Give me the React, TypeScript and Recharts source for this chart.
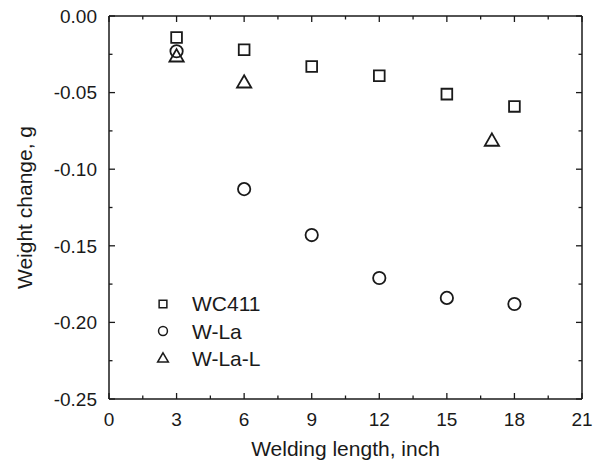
import React from 'react'
import {
  ScatterChart,
  Scatter,
  XAxis,
  YAxis,
  Legend,
  Symbols,
} from 'recharts'

// Weight change vs welding length, three electrode types
const lengthWC411 = [3, 6, 9, 12, 15, 18]
const weightWC411 = [-0.014, -0.022, -0.033, -0.039, -0.051, -0.059]
const lengthWLa = [3, 6, 9, 12, 15, 18]
const weightWLa = [-0.023, -0.113, -0.143, -0.171, -0.184, -0.188]
const lengthWLaL = [3, 6, 17]
const weightWLaL = [-0.027, -0.044, -0.082]

const xMajorTicks = [0, 3, 6, 9, 12, 15, 18, 21]
const xMinorTicks = [1.5, 4.5, 7.5, 10.5, 13.5, 16.5, 19.5]
const yMajorTicks = [0, -0.05, -0.1, -0.15, -0.2, -0.25]
const yMinorTicks = [-0.025, -0.075, -0.125, -0.175, -0.225]

const toPoints = (xs: number[], ys: number[]) => xs.map((x, i) => ({ x, y: ys[i] }))

const series = [
  { name: 'WC411', shape: 'square', data: toPoints(lengthWC411, weightWC411), size: 115, legendSize: 60 },
  { name: 'W-La', shape: 'circle', data: toPoints(lengthWLa, weightWLa), size: 120, legendSize: 62 },
  { name: 'W-La-L', shape: 'triangle', data: toPoints(lengthWLaL, weightWLaL), size: 88, legendSize: 50 },
]

const INK = '#1a1a1a'
const FONT = '"Liberation Sans", Arial, sans-serif'

const XTick = (props: any) => {
  const { x, y, payload, side } = props
  const major = xMajorTicks.includes(payload.value)
  const len = major ? 6 : 3.5
  const dir = side === 'bottom' ? -1 : 1
  return (
    <g>
      <line x1={x} y1={y} x2={x} y2={y + dir * len} stroke={INK} strokeWidth={1.3} />
      {side === 'bottom' && major && (
        <text x={x} y={y + 20} dy="0.36em" textAnchor="middle" fontSize={19} fill={INK} fontFamily={FONT}>
          {payload.value}
        </text>
      )}
    </g>
  )
}

const YTick = (props: any) => {
  const { x, y, payload, side } = props
  const major = yMajorTicks.includes(payload.value)
  const len = major ? 6 : 3.5
  const dir = side === 'left' ? 1 : -1
  return (
    <g>
      <line x1={x} y1={y} x2={x + dir * len} y2={y} stroke={INK} strokeWidth={1.3} />
      {side === 'left' && major && (
        <text x={x - 12} y={y} dy="0.36em" textAnchor="end" fontSize={19} fill={INK} fontFamily={FONT}>
          {payload.value.toFixed(2)}
        </text>
      )}
    </g>
  )
}

const LegendBox = () => (
  <div style={{ fontFamily: FONT, fontSize: 21, color: INK }}>
    {series.map(s => (
      <div key={s.name} style={{ display: 'flex', alignItems: 'center', height: 27.5 }}>
        <svg width={26} height={26}>
          <Symbols cx={13} cy={13} type={s.shape as any} size={s.legendSize} fill="none" stroke={INK} strokeWidth={1.5} />
        </svg>
        <span style={{ marginLeft: 16, lineHeight: '27px' }}>{s.name}</span>
      </div>
    ))}
  </div>
)

export default function App() {
  const axisLine = { stroke: INK, strokeWidth: 1.5 }
  return (
    <div style={{ position: 'absolute', left: 0, top: 0, background: '#fff' }}>
      <ScatterChart width={603} height={462} margin={{ top: 15, right: 20, left: 0, bottom: 0 }}>
        <XAxis
          type="number"
          dataKey="x"
          domain={[0, 21]}
          allowDataOverflow
          ticks={[...xMajorTicks, ...xMinorTicks]}
          interval={0}
          height={63}
          tickSize={0}
          tickMargin={0}
          axisLine={axisLine}
          tickLine={false}
          tick={(p: any) => <XTick {...p} side="bottom" />}
          label={{
            value: 'Welding length, inch',
            position: 'insideTop',
            offset: 42,
            style: { fontSize: 21, fill: INK, fontFamily: FONT },
          }}
        />
        <XAxis
          xAxisId="top"
          orientation="top"
          type="number"
          dataKey="x"
          domain={[0, 21]}
          allowDataOverflow
          ticks={[...xMajorTicks, ...xMinorTicks]}
          interval={0}
          height={1}
          tickSize={0}
          tickMargin={0}
          axisLine={axisLine}
          tickLine={false}
          tick={(p: any) => <XTick {...p} side="top" />}
        />
        <YAxis
          type="number"
          dataKey="y"
          domain={[-0.25, 0]}
          allowDataOverflow
          ticks={[...yMajorTicks, ...yMinorTicks]}
          interval={0}
          width={109}
          tickSize={0}
          tickMargin={0}
          axisLine={axisLine}
          tickLine={false}
          tick={(p: any) => <YTick {...p} side="left" />}
          label={{
            value: 'Weight change, g',
            angle: -90,
            position: 'insideLeft',
            offset: 25,
            style: { fontSize: 21, fill: INK, fontFamily: FONT, textAnchor: 'middle' },
          }}
        />
        <YAxis
          yAxisId="right"
          orientation="right"
          type="number"
          dataKey="y"
          domain={[-0.25, 0]}
          allowDataOverflow
          ticks={[...yMajorTicks, ...yMinorTicks]}
          interval={0}
          width={1}
          tickSize={0}
          tickMargin={0}
          axisLine={axisLine}
          tickLine={false}
          tick={(p: any) => <YTick {...p} side="right" />}
        />
        {series.map(s => (
          <Scatter
            key={s.name}
            name={s.name}
            data={s.data}
            shape={(p: any) => (
              <Symbols cx={p.cx} cy={p.cy} type={s.shape as any} size={s.size} fill="none" stroke={INK} strokeWidth={1.8} />
            )}
            isAnimationActive={false}
          />
        ))}
        {/* invisible copy bound to the frame axes so they get drawn */}
        <Scatter
          xAxisId="top"
          yAxisId="right"
          data={series[0].data}
          shape={() => <g />}
          legendType="none"
          isAnimationActive={false}
        />
        <Legend
          layout="vertical"
          align="center"
          verticalAlign="middle"
          content={() => <LegendBox />}
          wrapperStyle={{ left: 150, top: 290, width: 'auto' }}
        />
      </ScatterChart>
    </div>
  )
}
